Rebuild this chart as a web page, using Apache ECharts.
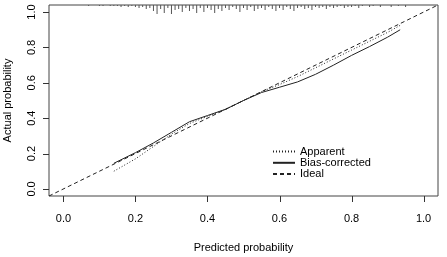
<!DOCTYPE html>
<html>
<head>
<meta charset="utf-8">
<script src="https://cdn.jsdelivr.net/npm/echarts@6/dist/echarts.min.js"></script>
<style>
html, body { margin: 0; padding: 0; background: #fff; }
#chart { width: 447px; height: 257px; }
</style>
</head>
<body>
<div id="chart"></div>
<script>
// calibration curves
var predX      = [0.14, 0.2, 0.25, 0.3, 0.35, 0.4, 0.45, 0.5, 0.55, 0.6, 0.65, 0.7, 0.75, 0.8, 0.85, 0.9, 0.935];
var apparentY  = [0.10, 0.17, 0.24, 0.31, 0.37, 0.41, 0.45, 0.50, 0.55, 0.59, 0.635, 0.685, 0.735, 0.785, 0.835, 0.885, 0.925];
var biasCorrY  = [0.145, 0.205, 0.26, 0.32, 0.38, 0.415, 0.45, 0.50, 0.545, 0.575, 0.605, 0.648, 0.70, 0.755, 0.805, 0.858, 0.90];
var idealX     = [-0.04, 1.04];

// rug of predicted probabilities along the top (frequency per bin)
var rugX = [];
for (var k = 7; k <= 95; k++) rugX.push(k / 100);
var rugN = [1,0,0,1,1,0,1,1,1,2,1,2,1,2,3,2,4,3,6,9,4,8,3,9,5,4,7,3,6,4,8,3,7,3,5,8,4,6,3,5,2,4,7,3,5,2,6,4,3,5,2,4,6,3,5,2,4,6,3,2,4,3,5,2,3,2,4,2,3,2,1,3,2,2,1,3,1,0,2,1,0,2,0,0,2,0,1,0,2];

var xTicks = [0, 0.2, 0.4, 0.6, 0.8, 1.0];
var yTicks = [0, 0.2, 0.4, 0.6, 0.8, 1.0];

function pairs(xs, ys) {
    return xs.map(function(x, i) { return [x, ys[i]]; });
}

var font = 'Liberation Sans, Arial, sans-serif';
var ink = '#222';
var noDot = { opacity: 0 };

// plot box (R style: 4% padding around 0..1)
var box = { left: 49, top: 5, right: 9, bottom: 61 };
var W = 447 - box.left - box.right, H = 257 - box.top - box.bottom;
var lo = -0.04, hi = 1.04;
var padX = (0 - lo) / (hi - lo) * W, padY = (0 - lo) / (hi - lo) * H;
var tickLen = 6;

// outward tick marks drawn through the data scale
function tickRenderer(isX) {
    return function(params, api) {
        var p = api.coord([api.value(0), api.value(1)]);
        var shape;
        if (isX) {
            var x = Math.round(p[0]) + 0.5;
            shape = { x1: x, y1: p[1], x2: x, y2: p[1] + tickLen };
        } else {
            var y = Math.round(p[1]) + 0.5;
            shape = { x1: p[0] - tickLen, y1: y, x2: p[0], y2: y };
        }
        return { type: 'line', shape: shape, style: { stroke: '#333', lineWidth: 1 } };
    };
}

var chart = echarts.init(document.getElementById('chart'));
chart.setOption({
    animation: false,
    grid: [{
        left: box.left, top: box.top, right: box.right, bottom: box.bottom,
        outerBoundsMode: 'none', containLabel: false,
        show: true, borderColor: '#444', borderWidth: 1, backgroundColor: 'transparent'
    }, {
        // axes for the 0..1 labels
        left: box.left + padX, right: box.right + padX, top: box.top + padY, bottom: box.bottom + padY,
        outerBoundsMode: 'none', containLabel: false
    }],
    legend: {
        orient: 'vertical', left: 267, top: 141,
        itemWidth: 22, itemHeight: 14, itemGap: 0,
        textStyle: { fontFamily: font, fontSize: 11, color: '#000' },
        data: [
            { name: 'Apparent', itemStyle: noDot },
            { name: 'Bias-corrected', itemStyle: noDot },
            { name: 'Ideal', itemStyle: noDot }
        ]
    },
    xAxis: [{
        type: 'value', gridIndex: 0, min: lo, max: hi, show: false
    }, {
        type: 'value', gridIndex: 1, position: 'bottom', min: 0, max: 1, interval: 0.2, offset: padY,
        name: 'Predicted probability', nameLocation: 'middle', nameGap: 46,
        nameTextStyle: { fontFamily: font, fontSize: 11, color: '#000' },
        axisLine: { show: false, onZero: false },
        axisTick: { show: false },
        axisLabel: { margin: 17, fontFamily: font, fontSize: 11, color: '#000',
            formatter: function(v) { return v.toFixed(1); } },
        splitLine: { show: false }
    }],
    yAxis: [{
        type: 'value', gridIndex: 0, min: lo, max: hi, show: false
    }, {
        type: 'value', gridIndex: 0, min: 0, max: 191, inverse: true, show: false
    }, {
        type: 'value', gridIndex: 1, position: 'left', min: 0, max: 1, interval: 0.2, offset: padX,
        name: 'Actual probability', nameLocation: 'middle', nameGap: 36, nameRotate: 90,
        nameTextStyle: { fontFamily: font, fontSize: 11, color: '#000' },
        axisLine: { show: false, onZero: false },
        axisTick: { show: false },
        axisLabel: { rotate: 90, margin: 12, fontFamily: font, fontSize: 11, color: '#000',
            formatter: function(v) { return v.toFixed(1); } },
        splitLine: { show: false }
    }],
    series: [{
        name: 'Apparent', type: 'line', symbol: 'none', data: pairs(predX, apparentY),
        lineStyle: { color: ink, width: 1, type: [1, 2] }, itemStyle: { color: ink }
    }, {
        name: 'Bias-corrected', type: 'line', symbol: 'none', data: pairs(predX, biasCorrY),
        lineStyle: { color: ink, width: 1, type: 'solid' }, itemStyle: { color: ink }
    }, {
        name: 'Ideal', type: 'line', symbol: 'none', data: pairs(idealX, idealX),
        lineStyle: { color: ink, width: 1, type: [4, 3] }, itemStyle: { color: ink }
    }, {
        name: 'rug', type: 'bar', yAxisIndex: 1, barWidth: 1, data: pairs(rugX, rugN),
        itemStyle: { color: '#555' }, silent: true
    }, {
        name: 'xTicks', type: 'custom', xAxisIndex: 0, yAxisIndex: 0, clip: false, silent: true,
        data: xTicks.map(function(v) { return [v, lo]; }), renderItem: tickRenderer(true)
    }, {
        name: 'yTicks', type: 'custom', xAxisIndex: 0, yAxisIndex: 0, clip: false, silent: true,
        data: yTicks.map(function(v) { return [lo, v]; }), renderItem: tickRenderer(false)
    }]
});
</script>
</body>
</html>
